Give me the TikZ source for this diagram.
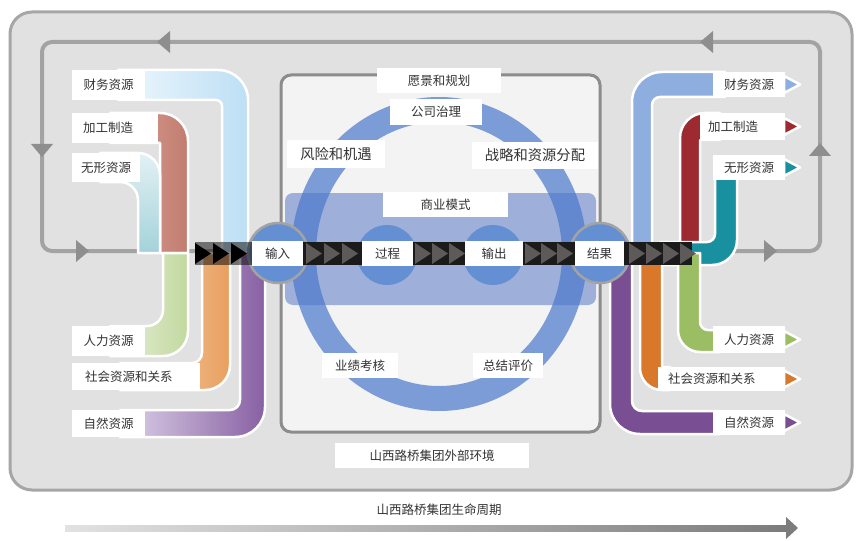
\documentclass[tikz,border=0pt]{standalone}
\usepackage{fontspec}
\newfontfamily\cjk{Noto Sans CJK SC}
\definecolor{outerbg}{HTML}{E1E1E1}
\definecolor{outerln}{HTML}{A6A6A6}
\definecolor{loopc}{HTML}{A3A3A3}
\definecolor{looparr}{HTML}{8E8E8E}
\definecolor{innerbg}{HTML}{F3F3F3}
\definecolor{innerln}{HTML}{8C8C8C}
\definecolor{ringc}{HTML}{4A78CC}
\definecolor{bandc}{HTML}{4A6FC0}
\definecolor{dotc}{HTML}{6490D3}
\definecolor{chevbg}{HTML}{1B1B1B}
\definecolor{chevc}{HTML}{5E5A5A}
\definecolor{txt}{HTML}{333333}
\definecolor{rblue}{HTML}{8DAEDE}
\definecolor{rred}{HTML}{9C2A30}
\definecolor{rteal}{HTML}{19909F}
\definecolor{rgreen}{HTML}{9BBD64}
\definecolor{rorange}{HTML}{D9772B}
\definecolor{rpurple}{HTML}{7A4E93}
\definecolor{lfinA}{HTML}{EEF7FD}
\definecolor{lfinB}{HTML}{BDDFF5}
\definecolor{lmanA}{HTML}{DAA69A}
\definecolor{lmanB}{HTML}{C27C6F}
\definecolor{lintA}{HTML}{E2F1F4}
\definecolor{lintB}{HTML}{A4D2DA}
\definecolor{lhumA}{HTML}{E8F0D9}
\definecolor{lhumB}{HTML}{C2D9A0}
\definecolor{lsocA}{HTML}{F6D9BD}
\definecolor{lsocB}{HTML}{E99F5E}
\definecolor{lnatA}{HTML}{DCD2E8}
\definecolor{lnatB}{HTML}{8860A3}
\definecolor{lifeA}{HTML}{E2E2E2}
\definecolor{lifeB}{HTML}{7C7C7C}
\begin{document}
\begin{tikzpicture}[x=1pt,y=-1pt,
  lab/.style={fill=white, inner sep=0pt, text=txt, font=\cjk\fontsize{12.5}{15}\selectfont},
  big/.style={font=\cjk\fontsize{14.3}{16}\selectfont},
  flow/.style={draw=white, line width=2.5pt, line join=round},
  tip/.style={draw=white, line width=2.5pt, line join=round},
  chevL/.style={fill=black},
  chevM/.style={fill=chevc}]
\useasboundingbox (0,0) rectangle (858,540);
\fill[white] (0,0) rectangle (858,540);
% outer environment
\draw[outerln, line width=3pt, fill=outerbg, rounded corners=22pt] (10,12) rectangle (852,490);
% feedback loop
\draw[loopc, line width=4pt, rounded corners=10pt] (42,42) rectangle (820,251);
\fill[looparr] (157,42) -- (170,31) -- (170,53) -- cycle;
\fill[looparr] (700,42) -- (713,31) -- (713,53) -- cycle;
\fill[looparr] (42,157) -- (31,144) -- (53,144) -- cycle;
\fill[looparr] (820,143) -- (809,156) -- (831,156) -- cycle;
\fill[looparr] (89,251) -- (76,240) -- (76,262) -- cycle;
\fill[looparr] (777,251) -- (764,240) -- (764,262) -- cycle;
% inner organisation box
\draw[innerln, line width=3pt, fill=innerbg, rounded corners=10pt] (281,75) rectangle (600,432);
% business model band and ring
\fill[bandc, opacity=0.5, rounded corners=8pt] (285,193) rectangle (596,305);
\draw[ringc, opacity=0.7, line width=25pt] (439,254) ellipse [x radius=135.5pt, y radius=144.5pt];
% left input flows
\path[flow, left color=lfinA, right color=lfinB]
  (118,70) -- (218,70) .. controls (234.6,70) and (248,83.4) .. (248,100) -- (248,253) -- (222,253)
  -- (222,106) .. controls (222,102.7) and (219.3,100) .. (216,100) -- (118,100) -- cycle;
\path[flow, left color=lmanA, right color=lmanB]
  (110,113) -- (160,113) .. controls (175.5,113) and (188,125.5) .. (188,141) -- (188,253) -- (160,253)
  -- (160,143) -- (110,143) -- cycle;
\path[flow, top color=lintA, bottom color=lintB]
  (100,153) -- (138,153) .. controls (150.1,153) and (160,162.9) .. (160,175) -- (160,253) -- (138,253)
  -- (138,200) .. controls (138,190.1) and (129.9,182) .. (120,182) -- (100,182) -- cycle;
\path[flow, left color=lhumA, right color=lhumB]
  (110,326) -- (147,326) .. controls (155.8,326) and (163,318.8) .. (163,310) -- (163,253) -- (188,253)
  -- (188,331) .. controls (188,344.8) and (176.8,356) .. (163,356) -- (110,356) -- cycle;
\path[flow, left color=lsocA, right color=lsocB]
  (120,363) -- (192,363) .. controls (197.5,363) and (202,358.5) .. (202,353) -- (202,253) -- (230,253)
  -- (230,365) .. controls (230,378.8) and (218.8,390) .. (205,390) -- (120,390) -- cycle;
\path[flow, left color=lnatA, right color=lnatB]
  (120,410) -- (230,410) .. controls (235.5,410) and (240,405.5) .. (240,400) -- (240,253) -- (265,253)
  -- (265,407) .. controls (265,423.6) and (251.6,437) .. (235,437) -- (120,437) -- cycle;
% right output flows
\path[flow, fill=rblue]
  (632,253) -- (632,102) .. controls (632,85.4) and (645.4,72) .. (662,72) -- (725,72) -- (725,97)
  -- (660,97) .. controls (655.6,97) and (652,100.6) .. (652,105) -- (652,253) -- cycle;
\path[flow, fill=rred]
  (680,253) -- (680,138) .. controls (680,124.2) and (691.2,113) .. (705,113) -- (720,113) -- (720,140)
  -- (700,140) -- (700,253) -- cycle;
\path[flow, fill=rteal]
  (660,242) -- (707,242) .. controls (711.4,242) and (715,238.4) .. (715,234) -- (715,160) -- (737,160)
  -- (737,240) .. controls (737,253.8) and (725.8,265) .. (712,265) -- (660,265) -- cycle;
\path[flow, fill=rgreen]
  (678,253) -- (678,330) .. controls (678,342.2) and (687.8,352) .. (700,352) -- (720,352) -- (720,330)
  -- (708,330) .. controls (703.6,330) and (700,326.4) .. (700,322) -- (700,253) -- cycle;
\path[flow, fill=rorange]
  (640,253) -- (640,368) .. controls (640,380.2) and (649.8,390) .. (662,390) -- (670,390) -- (670,367)
  -- (662,367) -- (662,253) -- cycle;
\path[flow, fill=rpurple]
  (610,253) -- (610,404) .. controls (610,420.6) and (623.4,434) .. (640,434) -- (720,434) -- (720,411)
  -- (642,411) .. controls (636.5,411) and (632,406.5) .. (632,401) -- (632,253) -- cycle;
% output pointers
\foreach \yc/\cc in {84.5/rblue,126.5/rred,167.5/rteal,339.5/rgreen,379/rorange,422.5/rpurple}
  \path[tip, fill=\cc] (784,\yc-8.5) -- (800,\yc) -- (784,\yc+8.5) -- cycle;
% value-creation circles
\fill[dotc] (387,255) circle[radius=30pt];
\fill[dotc] (493,255) circle[radius=30pt];
\draw[loopc, line width=2.5pt, fill=dotc] (278,253) circle[radius=30pt];
\draw[loopc, line width=2.5pt, fill=dotc] (600,253) circle[radius=30pt];
% chevron band
\fill[black, opacity=0.5] (195,242) rectangle (252,265);
\fill[chevbg] (252,242) rectangle (692,265);
\foreach \x in {195,213,231}
  \fill[chevL] (\x,243) -- (\x+16,253.5) -- (\x,264) -- cycle;
\foreach \x in {306,324,342,415,432,449,525,541,557,629,646,663,680}
  \fill[chevM] (\x,243) -- (\x+16,253.5) -- (\x,264) -- cycle;
% left labels
\node[lab, minimum width=73pt, minimum height=30pt] (LA) at (108.5,85) {财务资源};
\node[lab, anchor=west, text width=64pt, inner xsep=11pt, align=left, minimum height=30pt] (LB) at (72,128) {加工制造};
\node[lab, minimum width=68pt, minimum height=29pt] (LC) at (106,167.5) {无形资源};
\node[lab, minimum width=73pt, minimum height=30pt] (LD) at (108.5,341) {人力资源};
\node[lab, anchor=west, text width=102pt, inner xsep=13pt, align=left, minimum height=27pt] (LE) at (72,376.5) {社会资源和关系};
\node[lab, minimum width=73pt, minimum height=27pt] (LF) at (108.5,423.5) {自然资源};
% right labels
\node[lab, minimum width=72pt, minimum height=25pt] (RA) at (749,84.5) {财务资源};
\node[lab, anchor=west, text width=69pt, inner xsep=8pt, align=left, minimum height=27pt] (RB) at (700,126.5) {加工制造};
\node[lab, minimum width=72pt, minimum height=25pt] (RC) at (749,167.5) {无形资源};
\node[lab, minimum width=72pt, minimum height=27pt] (RD) at (749,339.5) {人力资源};
\node[lab, anchor=west, text width=107pt, inner xsep=10pt, align=left, minimum height=24pt] (RE) at (658,379) {社会资源和关系};
\node[lab, minimum width=72pt, minimum height=25pt] (RF) at (749,422.5) {自然资源};
% centre labels
\node[lab, minimum width=124pt, minimum height=25pt] (vision) at (439,80.5) {愿景和规划};
\node[lab, minimum width=92pt, minimum height=26pt] (gov) at (436,112) {公司治理};
\node[lab, big, minimum width=98pt, minimum height=28pt] (risk) at (336,154) {风险和机遇};
\node[lab, big, minimum width=126pt, minimum height=27pt] (strat) at (535,155.5) {战略和资源分配};
\node[lab, minimum width=125pt, minimum height=25pt] (bm) at (445.5,204.5) {商业模式};
\node[lab, minimum width=51pt, minimum height=25pt] (nin) at (277.5,253.5) {输入};
\node[lab, minimum width=51pt, minimum height=25pt] (proc) at (387.5,253.5) {过程};
\node[lab, minimum width=58pt, minimum height=25pt] (nout) at (494,253.5) {输出};
\node[lab, minimum width=49pt, minimum height=25pt] (res) at (599.5,253.5) {结果};
\node[lab, minimum width=76pt, minimum height=25pt] (perf) at (360,365.5) {业绩考核};
\node[lab, minimum width=70pt, minimum height=25pt] (eval) at (508,365.5) {总结评价};
\node[lab, minimum width=194pt, minimum height=25pt] (env) at (432,455.5) {山西路桥集团外部环境};
% lifecycle
\node[text=txt, font=\cjk\fontsize{12.5}{15}\selectfont, inner sep=0pt] (life) at (439,510) {山西路桥集团生命周期};
\shade[left color=lifeA, right color=lifeB] (65,525) rectangle (787,531);
\fill[lifeB] (786,517) -- (798,528) -- (786,539) -- cycle;
\end{tikzpicture}
\end{document}
